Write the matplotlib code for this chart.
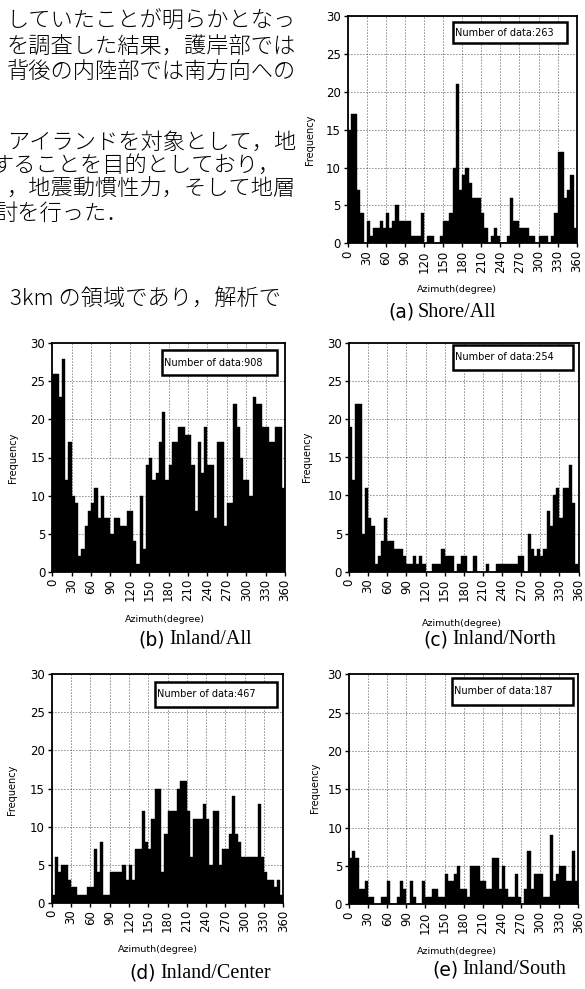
import matplotlib
matplotlib.use('Agg')
import matplotlib.pyplot as plt
from matplotlib.patches import Rectangle

W, H = 585, 989

# ---------------- data ----------------
bin_starts = list(range(0, 360, 5))      # 5-degree azimuth bins
x_ticks = list(range(0, 361, 30))
y_ticks = list(range(0, 31, 5))

shore_all = [15, 17, 17, 7, 4, 0, 3, 1, 2, 2,
             3, 2, 4, 2, 3, 5, 3, 3, 3, 3,
             1, 1, 1, 4, 0, 1, 1, 0, 0, 1,
             3, 3, 4, 10, 21, 7, 9, 10, 8, 6,
             6, 6, 4, 2, 0, 1, 2, 1, 0, 0,
             1, 6, 3, 3, 2, 2, 2, 1, 1, 0,
             1, 1, 1, 0, 1, 4, 12, 12, 6, 7,
             9, 2]

inland_all = [26, 26, 23, 28, 12, 17, 10, 9, 2, 3,
              6, 8, 9, 11, 7, 10, 7, 7, 5, 7,
              7, 6, 6, 8, 8, 4, 1, 10, 3, 14,
              15, 12, 13, 17, 21, 12, 14, 17, 17, 19,
              19, 18, 18, 14, 8, 17, 13, 19, 14, 14,
              7, 17, 17, 6, 9, 9, 22, 19, 15, 12,
              12, 10, 23, 22, 22, 19, 19, 17, 17, 19,
              19, 11]

inland_north = [19, 12, 22, 22, 5, 11, 7, 6, 1, 2,
                4, 7, 4, 4, 3, 3, 3, 2, 1, 1,
                2, 1, 2, 1, 0, 0, 1, 1, 1, 3,
                2, 2, 2, 0, 1, 2, 2, 0, 0, 2,
                0, 0, 0, 1, 0, 0, 1, 1, 1, 1,
                1, 1, 1, 2, 2, 0, 5, 3, 2, 3,
                2, 3, 8, 6, 10, 11, 7, 11, 11, 14,
                9, 1]

inland_center = [1, 6, 4, 5, 5, 3, 2, 2, 1, 1,
                 1, 2, 2, 7, 4, 8, 1, 1, 4, 4,
                 4, 4, 5, 3, 5, 3, 7, 7, 12, 8,
                 7, 11, 15, 15, 4, 9, 12, 12, 12, 15,
                 16, 16, 12, 6, 11, 11, 11, 13, 11, 5,
                 12, 12, 5, 7, 7, 9, 14, 9, 8, 6,
                 6, 6, 6, 6, 13, 6, 4, 3, 3, 2,
                 3, 1]

inland_south = [6, 7, 6, 2, 2, 3, 1, 1, 0, 0,
                1, 1, 3, 0, 0, 1, 3, 2, 0, 3,
                1, 0, 0, 3, 1, 1, 2, 2, 1, 1,
                4, 3, 3, 4, 5, 2, 2, 1, 5, 5,
                5, 3, 3, 2, 2, 6, 6, 2, 5, 2,
                1, 1, 4, 1, 0, 2, 7, 2, 4, 4,
                4, 1, 1, 9, 3, 4, 5, 5, 3, 3,
                7, 3]

counts = [263, 908, 254, 467, 187]
letters = ['(a)', '(b)', '(c)', '(d)', '(e)']
names = ['Shore/All', 'Inland/All', 'Inland/North', 'Inland/Center', 'Inland/South']
series = [shore_all, inland_all, inland_north, inland_center, inland_south]

jp_lines = ['していたことが明らかとなっ',
            'を調査した結果，護岸部では',
            '背後の内陸部では南方向への',
            'アイランドを対象として，地',
            'することを目的としており，',
            '，地震動慣性力，そして地層',
            '討を行った．',
            '3km の領域であり，解析で']

# ---------------- layout (pixel coordinates) ----------------
axes_px = [(347.7, 16, 576.7, 243.3),
           (52.3, 343.3, 285, 571.7),
           (349, 342.7, 578.5, 571.7),
           (51.7, 674.3, 283.3, 902.7),
           (349, 674.3, 578.3, 904.3)]
box_px = [(453, 22, 567, 43),
          (161.7, 350, 276.7, 375),
          (453, 345, 573, 370),
          (155, 681.7, 277, 706.7),
          (451.7, 678, 573.3, 705)]
ylab_px = [(310, 140), (13, 458), (307, 457), (12, 790), (315, 788)]
xlab_px = [(457, 290), (165, 620), (462, 623), (158, 950), (457, 952)]
cap_px = [(414, 312), (165, 640), (448, 640), (156, 973), (458, 970)]

jp_pos = [(296, 22, 'right'), (296, 47, 'right'), (296, 72, 'right'),
          (296, 143, 'right'), (281, 166, 'right'), (296, 190, 'right'),
          (-5, 214, 'left'), (10, 300, 'left')]


def fx(x):
    return x / W


def fy(y):
    return 1 - y / H


fig = plt.figure(figsize=(W / 100, H / 100), dpi=100)
fig.patch.set_facecolor('white')

jp_family = ['Noto Sans CJK JP', 'DejaVu Sans']
for s, (x, y, ha) in zip(jp_lines, jp_pos):
    fig.text(fx(x), fy(y), s, fontsize=16, family=jp_family, weight='light',
             ha=ha, va='center', color='black')

for i in range(5):
    l, t, r, b = axes_px[i]
    ax = fig.add_axes([fx(l), fy(b), (r - l) / W, (b - t) / H])
    ax.bar(bin_starts, series[i], width=5, align='edge',
           color='black', edgecolor='black', linewidth=0.3, zorder=2)
    ax.set_xlim(0, 360)
    ax.set_ylim(0, 30)
    ax.set_xticks(x_ticks)
    ax.set_xticklabels([str(v) for v in x_ticks], rotation=90,
                       fontsize=8.5, family='DejaVu Sans')
    ax.set_yticks(y_ticks)
    ax.set_yticklabels([str(v) for v in y_ticks], fontsize=8.5,
                       family='DejaVu Sans')
    ax.tick_params(direction='out', length=3, width=1, pad=2)
    ax.grid(True, color='#111111', linestyle=(0, (1.0, 2.6)), linewidth=0.6)
    ax.set_axisbelow(True)
    for sp in ax.spines.values():
        sp.set_linewidth(1.3)
        sp.set_color('black')

    # legend-like box
    x0, y0, x1, y1 = box_px[i]
    fig.add_artist(Rectangle((fx(x0), fy(y1)), (x1 - x0) / W, (y1 - y0) / H,
                             transform=fig.transFigure, facecolor='white',
                             edgecolor='black', linewidth=1.8, zorder=5))
    fig.text(fx(x0 + 2), fy((y0 + y1) / 2), 'Number of data:%d' % counts[i],
             fontsize=7, family='DejaVu Sans', ha='left', va='center',
             zorder=6)

    # axis labels
    lx, ly = ylab_px[i]
    fig.text(fx(lx), fy(ly), 'Frequency', rotation=90, fontsize=7,
             family='DejaVu Sans', ha='center', va='center')
    lx, ly = xlab_px[i]
    fig.text(fx(lx), fy(ly), 'Azimuth(degree)', fontsize=6.8,
             family='DejaVu Sans', ha='center', va='center')

    # caption
    cx, cy = cap_px[i]
    fig.text(fx(cx), fy(cy), letters[i], fontsize=13.5, family='DejaVu Sans',
             ha='right', va='center')
    fig.text(fx(cx + 4), fy(cy), names[i], fontsize=14.5,
             family='Liberation Serif', ha='left', va='center')

fig.savefig('out.png', dpi=100, facecolor='white')
